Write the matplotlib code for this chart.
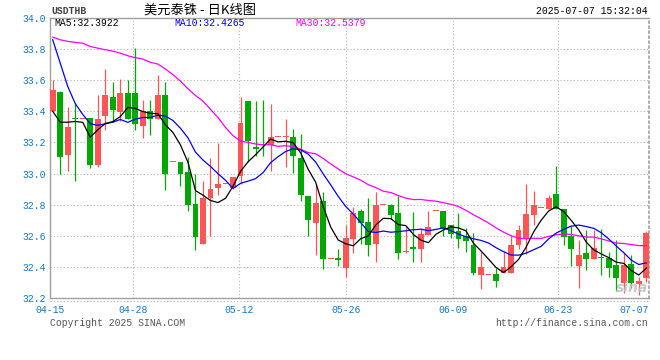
import numpy as np
import pandas as pd
import matplotlib
matplotlib.use("Agg")
import matplotlib.pyplot as plt
from matplotlib.lines import Line2D

# daily candles, USD/THB, oldest first (80 sessions 04-15 .. 07-07)
open_ = [33.402, 33.523, 33.121, 33.353, 33.353, 33.355, 33.057, 33.370, 33.489, 33.396,
         33.515, 33.521, 33.306, 33.402, 33.353, 33.502, 33.072, 33.072, 33.009, 32.806,
         32.547, 32.845, 32.909, 32.932, 32.909, 32.987, 33.464, 33.170, 33.187, 33.185,
         33.232, 33.232, 33.232, 33.102, 32.853, 32.681, 32.826, 32.453, 32.455, 32.394,
         32.577, 32.760, 32.691, 32.545, 32.798, 32.798, 32.747, 32.494, 32.530, 32.513,
         32.606, 32.760, 32.760, 32.670, 32.628, 32.598, 32.543, 32.345, 32.349, 32.353,
         32.360, 32.360, 32.538, 32.581, 32.736, 32.777, 32.772, 32.868, 32.772, 32.596,
         32.404, 32.491, 32.449, 32.466, 32.457, 32.411, 32.294, 32.419, 32.287, 32.326]
high = [33.604, 33.530, 33.428, 33.451, 33.353, 33.355, 33.502, 33.672, 33.587, 33.609,
        33.604, 33.806, 33.472, 33.472, 33.636, 33.587, 33.072, 33.072, 33.109, 32.994,
        32.955, 33.100, 33.196, 32.932, 32.979, 33.494, 33.464, 33.464, 33.470, 33.445,
        33.232, 33.353, 33.285, 33.253, 32.853, 32.932, 32.881, 32.453, 32.513, 32.668,
        32.783, 32.772, 32.840, 32.883, 32.798, 32.804, 32.853, 32.662, 32.751, 32.651,
        32.760, 32.760, 32.760, 32.670, 32.747, 32.653, 32.619, 32.496, 32.349, 32.396,
        32.500, 32.598, 32.672, 32.936, 32.887, 32.777, 32.862, 33.049, 32.772, 32.666,
        32.570, 32.638, 32.640, 32.645, 32.496, 32.570, 32.489, 32.474, 32.336, 32.628]
low = [33.400, 32.998, 33.019, 32.949, 33.353, 33.034, 33.040, 33.281, 33.334, 33.338,
       33.349, 33.281, 33.230, 33.247, 33.349, 32.896, 33.072, 32.917, 32.757, 32.509,
       32.547, 32.598, 32.860, 32.932, 32.902, 32.934, 33.072, 33.115, 33.111, 33.019,
       33.232, 33.045, 33.002, 32.823, 32.598, 32.477, 32.385, 32.453, 32.406, 32.332,
       32.487, 32.547, 32.470, 32.432, 32.798, 32.709, 32.453, 32.487, 32.432, 32.432,
       32.606, 32.760, 32.598, 32.585, 32.523, 32.496, 32.347, 32.257, 32.349, 32.272,
       32.360, 32.360, 32.513, 32.485, 32.670, 32.777, 32.772, 32.772, 32.543, 32.404,
       32.266, 32.379, 32.449, 32.347, 32.336, 32.245, 32.230, 32.262, 32.219, 32.304]
close = [33.534, 33.109, 33.300, 33.349, 33.353, 33.057, 33.349, 33.502, 33.409, 33.515,
         33.351, 33.317, 33.400, 33.353, 33.502, 32.994, 33.072, 33.000, 32.796, 32.591,
         32.845, 32.902, 32.934, 32.932, 32.979, 33.323, 33.211, 33.160, 33.183, 33.232,
         33.232, 33.232, 33.111, 32.860, 32.704, 32.813, 32.449, 32.453, 32.445, 32.583,
         32.747, 32.681, 32.538, 32.798, 32.798, 32.736, 32.491, 32.504, 32.513, 32.613,
         32.657, 32.760, 32.645, 32.613, 32.577, 32.564, 32.362, 32.398, 32.349, 32.309,
         32.402, 32.543, 32.638, 32.740, 32.798, 32.777, 32.843, 32.772, 32.591, 32.513,
         32.474, 32.449, 32.523, 32.457, 32.396, 32.326, 32.411, 32.294, 32.311, 32.619]

# moving-average values at the left edge (their windows start before the chart)
ma5_head = [33.40, 33.33, 33.33, 33.335]
ma10_head = [33.86, 33.71, 33.56, 33.45, 33.38, 33.32, 33.31, 33.32, 33.33]
ma30_head = [33.877, 33.860, 33.850, 33.843, 33.838, 33.817, 33.806, 33.796, 33.787, 33.774,
             33.757, 33.745, 33.736, 33.715, 33.704, 33.672, 33.636, 33.594, 33.545, 33.502,
             33.466, 33.413, 33.360, 33.296, 33.243, 33.210, 33.200, 33.190, 33.185]

date_labels = ["04-15", "04-28", "05-12", "05-26", "06-09", "06-23", "07-07"]
date_pos = [-0.36, 10.73, 24.79, 39.03, 53.27, 67.24, 79.36]
y_ticks = [32.2, 32.4, 32.6, 32.8, 33.0, 33.2, 33.4, 33.6, 33.8, 34.0]

df = pd.DataFrame({"open": open_, "high": high, "low": low, "close": close})
x = np.arange(len(df))

def moving_avg(n, head):
    ma = df["close"].rolling(n).mean()
    ma.iloc[:n - 1] = head
    return ma

ma5 = moving_avg(5, ma5_head)
ma10 = moving_avg(10, ma10_head)
ma30 = moving_avg(30, ma30_head)

W, H = 660, 360
fig = plt.figure(figsize=(6.6, 3.6), dpi=100)
ax = fig.add_axes([50 / W, 1 - 298 / H, 599 / W, 280 / H])

RED = "#ff5555"
GREEN = "#00a800"
TICK_BLUE = "#1478c8"
MONO = "Liberation Mono"

up = df["close"] >= df["open"]
colors = np.where(up, RED, GREEN)
ax.vlines(x, df["low"], df["high"], colors=colors, linewidth=0.9, zorder=3)
body_lo = np.minimum(df["open"], df["close"])
body_h = np.maximum((df["close"] - df["open"]).abs(), 0.007)
ax.bar(x, body_h, bottom=body_lo, width=0.78, color=colors, linewidth=0, zorder=4)

ax.plot(x, ma30, color="#ff00ff", linewidth=0.9, zorder=5)
ax.plot(x, ma10, color="#0000ff", linewidth=0.9, zorder=5)
ax.plot(x, ma5, color="black", linewidth=0.9, zorder=6)

ax.set_xlim(-0.36, 79.36)
ax.set_ylim(32.2, 34.0)

ax.set_yticks(y_ticks)
ax.set_yticklabels([f"{v:.1f}" for v in y_ticks], color=TICK_BLUE, fontsize=7, family=MONO)
ax.set_xticks(date_pos)
ax.set_xticklabels(date_labels, color=TICK_BLUE, fontsize=7, family=MONO)
ax.get_xticklabels()[-1].set_horizontalalignment("right")
ax.tick_params(axis="both", length=0)
ax.tick_params(axis="y", pad=3)
ax.tick_params(axis="x", pad=5)

for v in y_ticks[1:-1]:
    ax.axhline(v, color="#b4b4b4", linestyle=(0, (1, 2)), linewidth=0.8, zorder=1)
for p in date_pos[1:-1]:
    ax.axvline(p, color="#b4b4b4", linestyle=(0, (1, 2)), linewidth=0.8, zorder=1)

for side in ["left", "bottom", "top"]:
    ax.spines[side].set_color("#a0a0a0")
    ax.spines[side].set_linewidth(1)
ax.spines["right"].set_color("#a0a0a0")
ax.spines["right"].set_linestyle((0, (1, 2)))
ax.spines["right"].set_linewidth(1.2)

# dotted rule just under the plot
fig.add_artist(Line2D([50 / W, 649 / W], [1 - 300.5 / H] * 2, color="#b4b4b4",
                      linestyle=(0, (1, 2)), linewidth=0.8))

def ftext(px, py, s, **kw):
    fig.text(px / W, 1 - py / H, s, va="center", **kw)

ftext(51, 11, "USDTHB", fontsize=7, family=MONO, color="#444444", fontweight="bold")
ftext(200, 10, "美元泰铢 - 日K线图", fontsize=9.5, ha="center",
      family=["Noto Sans CJK SC", "DejaVu Sans"], color="black")
ftext(648, 11, "2025-07-07 15:32:04", fontsize=7, family=MONO, ha="right", color="black")

ftext(54, 23, "MA5:%.4f" % 32.3922, fontsize=7, family=MONO, color="black")
ftext(174, 23, "MA10:%.4f" % 32.4265, fontsize=7, family=MONO, color="#0000ff")
ftext(295, 23, "MA30:%.4f" % 32.5379, fontsize=7, family=MONO, color="#ff00ff")

ftext(50, 323, "Copyright 2025 SINA.COM", fontsize=7, family=MONO, color="#555555")
ftext(648, 323, "http://finance.sina.com.cn", fontsize=7, family=MONO, ha="right", color="#555555")

# watermark
ftext(632, 288, "sina", fontsize=10, ha="center", color="#c0c0c0", fontweight="bold",
      fontstyle="italic", alpha=0.85, zorder=10)

fig.savefig("out.png", dpi=100)
